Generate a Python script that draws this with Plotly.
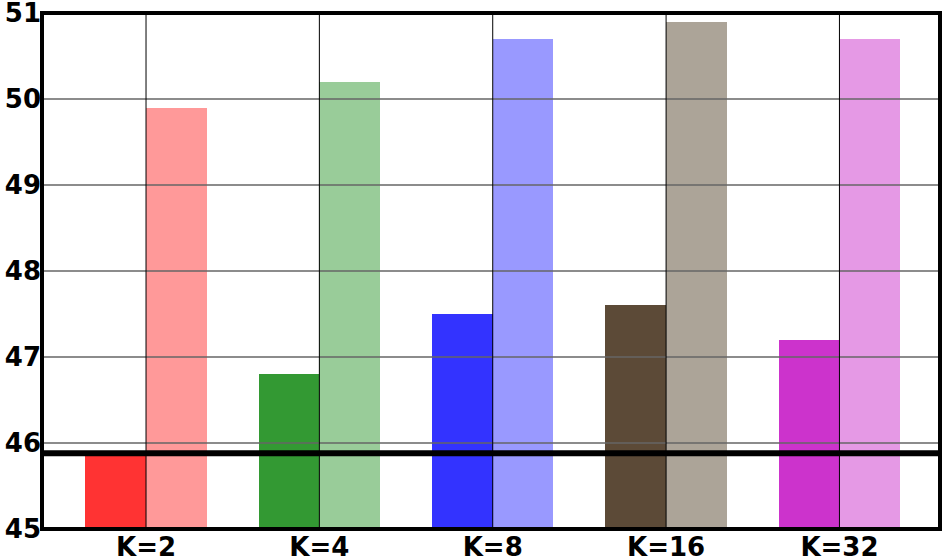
import plotly.graph_objects as go

categories = ["K=2", "K=4", "K=8", "K=16", "K=32"]
dark_values = [45.9, 46.8, 47.5, 47.6, 47.2]
light_values = [49.9, 50.2, 50.7, 50.9, 50.7]
dark_colors = ["#FF3333", "#339933", "#3333FF", "#5C4A37", "#CC33CC"]
light_colors = ["#FF9999", "#99CC99", "#9999FF", "#ACA498", "#E599E5"]
baseline = 45.88
y_ticks = [45, 46, 47, 48, 49, 50, 51]

x_idx = list(range(len(categories)))
bw = 0.35

fig = go.Figure()
fig.add_trace(go.Bar(x=[i - bw / 2 for i in x_idx], y=[v - 45 for v in dark_values], base=45,
                     width=bw, marker=dict(color=dark_colors, line=dict(width=0)), showlegend=False))
fig.add_trace(go.Bar(x=[i + bw / 2 for i in x_idx], y=[v - 45 for v in light_values], base=45,
                     width=bw, marker=dict(color=light_colors, line=dict(width=0)), showlegend=False))

shapes = []
for t in y_ticks[1:-1]:
    shapes.append(dict(type="line", xref="paper", yref="y", x0=0, x1=1, y0=t, y1=t,
                       line=dict(color="#666666", width=1.5), layer="above"))
for i in x_idx:
    shapes.append(dict(type="line", xref="x", yref="paper", x0=i, x1=i, y0=0, y1=1,
                       line=dict(color="#000000", width=1), layer="above"))
shapes.append(dict(type="line", xref="paper", yref="y", x0=0, x1=1, y0=baseline, y1=baseline,
                   line=dict(color="#000000", width=6), layer="above"))
shapes.append(dict(type="rect", xref="paper", yref="paper", x0=0, x1=1, y0=0, y1=1,
                   line=dict(color="#000000", width=4), layer="above"))

xfont = dict(family="DejaVu Sans", size=26, color="#000000", weight="bold")
yfont = dict(family="DejaVu Sans", size=26, color="#000000", weight="bold")
fig.update_layout(
    width=951, height=559,
    margin=dict(l=42, r=11, t=13, b=30, autoexpand=False),
    paper_bgcolor="white", plot_bgcolor="white",
    barmode="overlay", bargap=0,
    shapes=shapes,
    xaxis=dict(range=[-0.6, 4.58], tickvals=x_idx, ticktext=categories, showgrid=False,
               tickfont=xfont, ticks="", zeroline=False, ticklabelstandoff=0, automargin=False,
               ticklabeloverflow="allow"),
    yaxis=dict(range=[45, 51], tickvals=y_ticks, showgrid=False, tickfont=yfont, ticks="",
               zeroline=False, ticklabelstandoff=0, automargin=False,
               ticklabeloverflow="allow"),
)
fig.write_html("out.html", config={"displayModeBar": False},
               post_script="document.body.style.margin='0';document.body.style.overflow='hidden';")
